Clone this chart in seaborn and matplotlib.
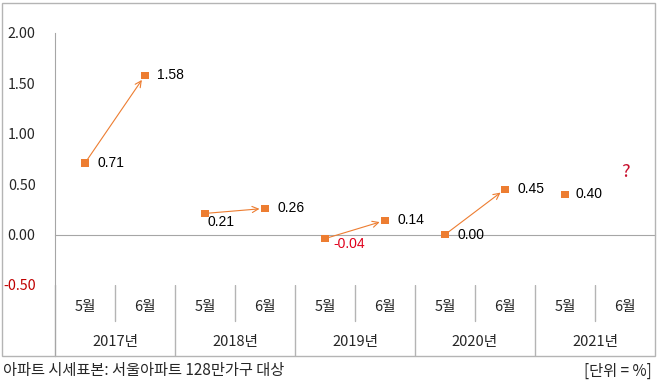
import matplotlib
matplotlib.use('Agg')
import matplotlib.pyplot as plt
import seaborn as sns
import pandas as pd
from matplotlib.patches import Rectangle

# data
years = ['2017년', '2018년', '2019년', '2020년', '2021년']
months = ['5월', '6월']
values = [0.71, 1.58, 0.21, 0.26, -0.04, 0.14, 0.00, 0.45, 0.40]
ytick_values = [-0.5, 0.0, 0.5, 1.0, 1.5, 2.0]
question_value = 0.62
footer_left = '아파트 시세표본: 서울아파트 128만가구 대상'
footer_right = '[단위 = %]'

# pixel offsets of the value labels (layout only)
label_offsets = [(12, 0), (12, 0), (3, -9), (12, 0), (8, -5),
                 (12, 0), (12, 0), (12, 0), (11, 0)]

sns.set_style('white')
plt.rcParams['font.family'] = ['Noto Sans CJK KR', 'DejaVu Sans']

W, H = 658, 381
ORANGE = '#ED7D31'
GRID = '#A6A6A6'
FRAME = '#B4B4B4'
TEXT = '#262626'
RED = '#E0001B'


def fx(x):
    return x / W


def fy(y):
    return 1 - y / H


fig = plt.figure(figsize=(W / 100, H / 100), dpi=100)
ax = fig.add_axes([fx(55), fy(285), fx(655) - fx(55), fy(33) - fy(285)])

n_slots = len(years) * len(months)
df = pd.DataFrame({'pos': [i + 0.5 for i in range(len(values))],
                   'value': values})
sns.scatterplot(data=df, x='pos', y='value', marker='s', s=28,
                color=ORANGE, edgecolor='none', ax=ax, zorder=3)

# arrows from May to June within each year
for i in range(0, len(values) - 1, 2):
    ax.annotate('', xy=(df.pos[i + 1], values[i + 1]),
                xytext=(df.pos[i], values[i]),
                arrowprops=dict(arrowstyle='->', color=ORANGE, lw=0.8,
                                shrinkA=3, shrinkB=4, mutation_scale=11))

for (x, v), off in zip(zip(df.pos, values), label_offsets):
    ax.annotate(f'{v:.2f}', (x, v), xytext=off, textcoords='offset pixels',
                ha='left', va='center', fontsize=10,
                family=['Liberation Sans', 'DejaVu Sans'],
                color=RED if v < 0 else 'black')

ax.text(n_slots - 0.5, question_value, '?', ha='center', va='center',
        fontsize=13, color='#C8102E')

ax.set_xlim(0, n_slots)
ax.set_ylim(-0.5, 2.0)
ax.set_xlabel('')
ax.set_ylabel('')
for s in ['top', 'right']:
    ax.spines[s].set_visible(False)
ax.spines['bottom'].set_position(('data', 0))
ax.spines['bottom'].set_color(GRID)
ax.spines['left'].set_color(GRID)
ax.set_xticks(range(1, n_slots))
ax.tick_params(axis='x', direction='in', length=4, color=GRID,
               labelbottom=False)
ax.set_yticks(ytick_values)
ax.set_yticklabels([f'{t:.2f}' for t in ytick_values])
ax.tick_params(axis='y', direction='out', length=5, color=GRID, pad=9,
               labelsize=10.3, labelcolor=TEXT)
ax.get_yticklabels()[0].set_color('#C00000')

# category table below the plot
ax2 = fig.add_axes([fx(55), fy(356), fx(655) - fx(55), fy(285) - fy(356)])
ax2.set_xlim(0, n_slots)
ax2.set_ylim(1, 0)
ax2.axis('off')
ax2.plot([0, 0], [0, 1], color=GRID, lw=1, clip_on=False)
for k in range(1, n_slots):
    if k % 2:
        ax2.plot([k, k], [0, 0.5], color=FRAME, lw=1)
    else:
        ax2.plot([k, k], [0, 1], color=FRAME, lw=1)
for j, yr in enumerate(years):
    for m, mon in enumerate(months):
        ax2.text(2 * j + m + 0.5, 0.31, mon, ha='center', va='center',
                 fontsize=10.5, color=TEXT)
    ax2.text(2 * j + 1, 0.80, yr, ha='center', va='center',
             fontsize=10.5, color=TEXT)

fig.add_artist(Rectangle((fx(2), fy(356)), fx(655) - fx(2), fy(3) - fy(356),
                         fill=False, edgecolor=FRAME, lw=1,
                         transform=fig.transFigure))

fig.text(fx(3), fy(370), footer_left, ha='left', va='center',
         fontsize=11, color=TEXT)
fig.text(fx(652), fy(371), footer_right, ha='right', va='center',
         fontsize=11, color=TEXT)

fig.savefig('out.png', dpi=100)
